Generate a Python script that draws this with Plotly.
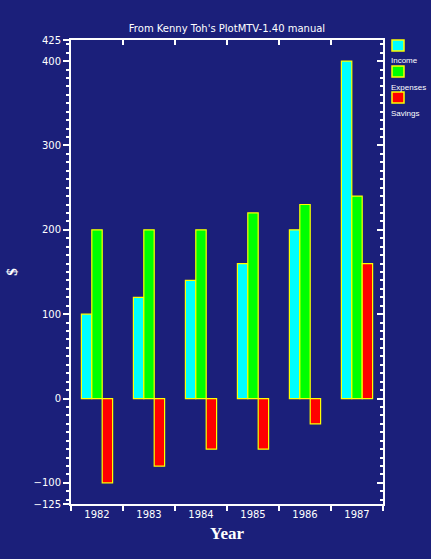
import plotly.graph_objects as go

years = ["1982", "1983", "1984", "1985", "1986", "1987"]
income = [100, 120, 140, 160, 200, 400]
expenses = [200, 200, 200, 220, 230, 240]
savings = [-100, -80, -60, -60, -30, 160]
series_names = ["Income", "Expenses", "Savings"]
series_colors = ["#00ffff", "#00ff00", "#ff0000"]
ytick_vals = [-125, -100, 0, 100, 200, 300, 400, 425]

BG = "#1b1f7a"
W, H = 431, 559
L, R, T, B = 71, 48, 40, 55
pw, ph = W - L - R, H - T - B

fig = go.Figure()
for name, vals, col in zip(series_names, [income, expenses, savings], series_colors):
    fig.add_trace(go.Bar(x=years, y=vals, name=name, marker=dict(color=col, line=dict(color="#ffff00", width=1.2)),
                         showlegend=False))

tickfont = dict(family="DejaVu Sans", size=10, color="white")
fig.update_layout(
    width=W, height=H,
    margin=dict(l=L, r=R, t=T, b=B, autoexpand=False),
    paper_bgcolor=BG, plot_bgcolor=BG,
    barmode="group", bargap=0.4, bargroupgap=0,
    title=dict(text="From Kenny Toh's PlotMTV-1.40 manual", x=(L + pw / 2) / W, xanchor="center",
               y=1 - 28 / H, yanchor="middle", font=dict(family="DejaVu Sans", size=10, color="white")),
    xaxis=dict(type="category", range=[-0.5, 5.5], tickson="boundaries", ticks="outside", ticklen=5,
               tickcolor="white", tickwidth=1.5, showline=True, linecolor="white", linewidth=2,
               showgrid=False, zeroline=False, tickfont=tickfont, automargin=False,
               title=dict(text="Year", standoff=8, font=dict(family="Liberation Serif", size=17, color="white", weight="bold"))),
    yaxis=dict(range=[-125, 425], tickvals=ytick_vals, ticktext=[str(v).replace("-", "\u2212") for v in ytick_vals],
               ticks="outside", ticklen=6, tickcolor="white", tickwidth=1.5, automargin=False,
               minor=dict(dtick=10, tick0=0, ticks="outside", ticklen=3, tickcolor="white", showgrid=False),
               showline=True, linecolor="white", linewidth=2, showgrid=False, zeroline=False, tickfont=tickfont,
               title=dict(text="$", standoff=12, font=dict(family="Liberation Serif", size=15, color="white", weight="bold"))),
    xaxis2=dict(overlaying="x", side="top", anchor="y", type="linear", range=[-0.5, 5.5], tickvals=[-0.5, 0.5, 1.5, 2.5, 3.5, 4.5, 5.5],
                showticklabels=False, ticks="inside", ticklen=5, tickcolor="white", tickwidth=1.5, automargin=False,
                showline=True, linecolor="white", linewidth=2, showgrid=False, zeroline=False),
    yaxis2=dict(overlaying="y", side="right", anchor="x", range=[-125, 425], tickvals=ytick_vals, showticklabels=False,
                ticks="inside", ticklen=6, tickcolor="white", tickwidth=1.5, automargin=False,
                minor=dict(dtick=10, tick0=0, ticks="inside", ticklen=3, tickcolor="white", showgrid=False),
                showline=True, linecolor="white", linewidth=2, showgrid=False, zeroline=False),
)
# invisible trace to activate the mirrored axes
fig.add_trace(go.Scatter(x=[0], y=[0], xaxis="x2", yaxis="y2", mode="markers", marker=dict(opacity=0), showlegend=False, hoverinfo="skip"))

# custom legend (symbol above its label)
def px_x(x):
    return (x - L) / pw
def px_y(y):
    return (H - B - y) / ph

sq_tops = [40, 66, 92]
for name, col, top in zip(series_names, series_colors, sq_tops):
    fig.add_shape(type="rect", xref="paper", yref="paper", x0=px_x(392), x1=px_x(404), y0=px_y(top + 11), y1=px_y(top),
                  fillcolor=col, line=dict(color="#ffff00", width=1.5))
    fig.add_annotation(text=name, xref="paper", yref="paper", x=px_x(389), y=px_y(top + 21), xanchor="left", yanchor="middle",
                       showarrow=False, font=dict(family="Liberation Sans", size=8, color="white"))

fig.write_html("out.html", config={"displayModeBar": False},
               post_script="document.body.style.margin='0';document.body.style.background='%s';" % BG)
